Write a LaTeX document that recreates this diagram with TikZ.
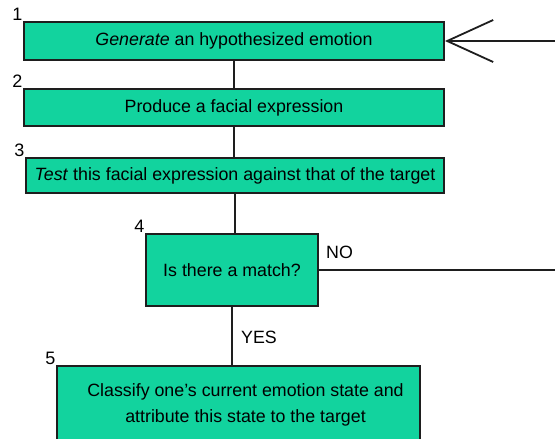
\documentclass[tikz,border=0pt]{standalone}
\usepackage{fontspec}
\setmainfont{Liberation Sans}
\usetikzlibrary{arrows.meta}
\definecolor{boxgreen}{RGB}{18,211,158}
\definecolor{edge}{RGB}{30,30,30}

\begin{document}
\begin{tikzpicture}[x=1pt,y=-1pt,
  stepbox/.style={draw=edge,line width=2pt,fill=boxgreen,inner sep=0pt,
    font=\fontsize{17.8}{26}\selectfont,align=center},
  numlabel/.style={font=\fontsize{18}{18}\selectfont,inner sep=0.5pt},
  flow/.style={draw=edge,line width=1.8pt},
  answer/.style={font=\fontsize{17.8}{20}\selectfont,inner sep=0pt}]
\useasboundingbox (0,0) rectangle (555,439);
\clip (0,0) rectangle (555,439);
\tikzset{label distance=0pt}
% the five steps
\node[stepbox,minimum width=420pt,minimum height=38pt,
  label={[numlabel]north west:1}] (b1) at (234,41) {\textit{Generate} an hypothesized emotion};
\node[stepbox,minimum width=420pt,minimum height=37pt,
  label={[numlabel]north west:2}] (b2) at (234,107.5) {Produce a facial expression};
\node[stepbox,minimum width=418pt,minimum height=35pt,
  label={[numlabel]north west:3}] (b3) at (235,175.5) {\textit{Test} this facial expression against that of the target};
\node[stepbox,minimum width=172pt,minimum height=72pt,
  label={[numlabel]north west:4}] (b4) at (232,270) {Is there a match?};
\node[stepbox,minimum width=363pt,minimum height=78pt,
  label={[numlabel]north west:5}] (b5) at (238.5,405) {\hspace*{14pt}Classify one’s current emotion state and\\ \hspace*{14pt}attribute this state to the target};
% free ends on the right
\coordinate (noend) at (560,270);
\coordinate (back) at (560,41);
% connectors
\draw[flow] (b1.south) -- (b1.south |- b2.north);
\draw[flow] (b2.south) -- (b2.south |- b3.north);
\draw[flow] (b3.south) -- (b3.south |- b4.north);
\draw[flow] (b4.south) -- (b4.south |- b5.north);
\draw[flow] (b4.east) -- (noend);
\draw[flow,-{Straight Barb[length=46pt,width=42pt,line width=1.8pt]}] (back) -- (b1.east);
\node[answer,anchor=west] (no) at (326,252) {NO};
\node[answer,anchor=west] (yes) at (241,337) {YES};
\end{tikzpicture}
\end{document}
